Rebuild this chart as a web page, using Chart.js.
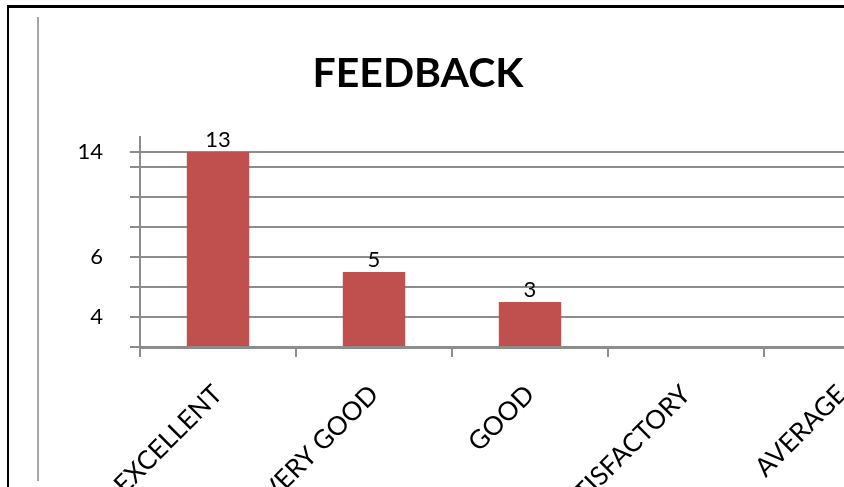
<!DOCTYPE html>
<html>
<head>
<meta charset="utf-8">
<script src="https://cdn.jsdelivr.net/npm/chart.js@4/dist/chart.umd.min.js"></script>
<style>
    html, body { margin: 0; padding: 0; background: #fff; overflow: hidden; width: 844px; height: 487px; }
    .frame { position: absolute; left: 7px; top: 5px; width: 900px; height: 500px; border-left: 2px solid #000; border-top: 3px solid #000; }
    .rule { position: absolute; left: 37px; top: 17px; width: 2px; height: 464px; background: #a6a6a6; }
    .title { position: absolute; left: 218px; width: 400px; top: 47px; text-align: center; font: bold 41px Lato, sans-serif; color: #000; }
    .wrap { position: absolute; left: 0; top: 0; width: 960px; height: 487px; }
</style>
</head>
<body>
<div class="frame"></div>
<div class="rule"></div>
<div class="wrap"><canvas id="feedback-chart" width="960" height="487"></canvas></div>
<div class="title">FEEDBACK</div>
<script>
// Chart data
const categories = ['EXCELLENT', 'VERY GOOD', 'GOOD', 'SATISFACTORY', 'AVERAGE'];
const responses = [13, 5, 3, 0, 0];
const yTickValues = [0, 2, 4, 6, 8, 10, 12, 13];
const yTickText = ['', '4', '', '6', '', '', '', '14'];

const gridGrey = '#8c8c8c';

// Value labels above each bar
const valueLabels = {
    id: 'valueLabels',
    afterDatasetsDraw(chart) {
        const ctx = chart.ctx;
        const meta = chart.getDatasetMeta(0);
        ctx.save();
        ctx.font = '22px Lato, sans-serif';
        ctx.fillStyle = '#000';
        ctx.textAlign = 'center';
        ctx.textBaseline = 'bottom';
        meta.data.forEach((bar, i) => {
            if (!responses[i]) return;
            ctx.fillText(String(responses[i]), bar.x, bar.y - 1);
        });
        ctx.restore();
    }
};

function initChart() {
    const ctx = document.getElementById('feedback-chart').getContext('2d');

    new Chart(ctx, {
        type: 'bar',
        data: {
            labels: categories,
            datasets: [{
                label: 'Responses',
                data: responses,
                backgroundColor: '#c0504d',
                borderWidth: 0,
                categoryPercentage: 1,
                barPercentage: 0.4
            }]
        },
        options: {
            responsive: false,
            animation: false,
            layout: {
                padding: { top: 137, right: 40, bottom: 0, left: 0 }
            },
            plugins: {
                legend: { display: false },
                title: { display: false },
                tooltip: { enabled: false }
            },
            scales: {
                x: {
                    offset: true,
                    afterFit: (scale) => { scale.height = 140; },
                    grid: {
                        drawOnChartArea: false,
                        offset: true,
                        color: gridGrey,
                        lineWidth: 2,
                        tickLength: 10
                    },
                    border: { color: gridGrey, width: 3 },
                    ticks: {
                        color: '#000',
                        minRotation: 45,
                        maxRotation: 45,
                        autoSkip: false,
                        padding: 22,
                        font: { family: 'Lato', size: 26 }
                    }
                },
                y: {
                    min: 0,
                    max: 14,
                    afterFit: (scale) => { scale.width = 140; },
                    afterBuildTicks: (scale) => {
                        scale.ticks = yTickValues.map(v => ({ value: v }));
                    },
                    grid: {
                        color: gridGrey,
                        lineWidth: 2,
                        tickLength: 10
                    },
                    border: { color: gridGrey, width: 2 },
                    ticks: {
                        color: '#000',
                        padding: 27,
                        font: { family: 'Lato', size: 22 },
                        callback: (value, index) => yTickText[index]
                    }
                }
            }
        },
        plugins: [valueLabels]
    });
}

document.addEventListener('DOMContentLoaded', initChart);
</script>
</body>
</html>
